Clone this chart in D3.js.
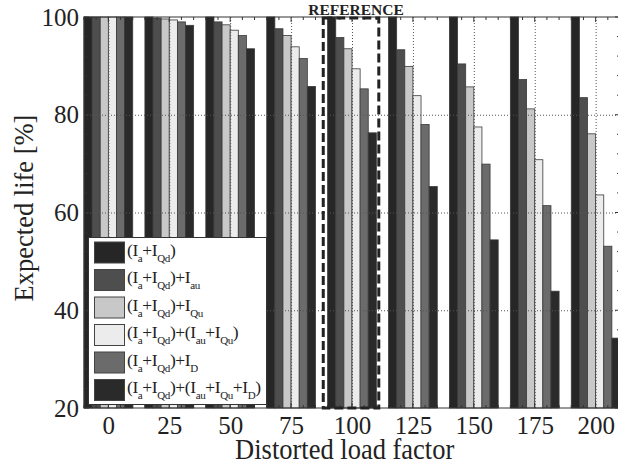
<!DOCTYPE html>
<html>
<head>
<meta charset="utf-8">
<script src="https://cdn.jsdelivr.net/npm/d3@7"></script>
<style>
  body { margin: 0; background: #fff; }
  svg { display: block; }
  text { font-family: "Liberation Serif", "DejaVu Serif", serif; fill: #222; }
</style>
</head>
<body>
<svg id="chart" width="618" height="465"></svg>
<script>
const loadFactors = [0, 25, 50, 75, 100, 125, 150, 175, 200]

const seriesNames = [
    "(I_{a}+I_{Qd})",
    "(I_{a}+I_{Qd})+I_{au}",
    "(I_{a}+I_{Qd})+I_{Qu}",
    "(I_{a}+I_{Qd})+(I_{au}+I_{Qu})",
    "(I_{a}+I_{Qd})+I_{D}",
    "(I_{a}+I_{Qd})+(I_{au}+I_{Qu}+I_{D})"
]

const seriesColors = ["#262626", "#4e4e4e", "#c8c8c8", "#ececec", "#6b6b6b", "#2a2a2a"]

// expected life [%], one array per series, ordered like loadFactors
const lifeIaQd     = [100, 100, 100, 100, 100, 100, 100, 100, 100]
const lifeIau      = [100, 99.8, 99.0, 97.6, 95.8, 93.3, 90.4, 87.2, 83.5]
const lifeIQu      = [100, 99.6, 98.4, 96.2, 93.5, 89.9, 85.7, 81.2, 76.1]
const lifeIauIQu   = [100, 99.4, 97.3, 93.9, 89.4, 83.9, 77.5, 70.8, 63.6]
const lifeID       = [100, 99.0, 96.2, 91.5, 85.3, 78.0, 69.9, 61.4, 53.1]
const lifeAll      = [100, 98.3, 93.5, 85.8, 76.3, 65.3, 54.4, 43.9, 34.3]

const seriesValues = [lifeIaQd, lifeIau, lifeIQu, lifeIauIQu, lifeID, lifeAll]

const yTicks = [20, 40, 60, 80, 100]
const referenceFactor = 100

const svg = d3.select("#chart")
const margin = { left: 84, top: 17, right: 620, bottom: 408 }

const x = d3.scaleLinear().domain([-10, 210]).range([margin.left, margin.right])
const y = d3.scaleLinear().domain([20, 100]).range([margin.bottom, margin.top])

const inner = d3.scaleBand().domain(d3.range(seriesNames.length)).paddingInner(0)

// bars
const groups = svg.append("g").selectAll("g")
    .data(loadFactors)
    .enter().append("g")

groups.selectAll("rect")
    .data((f, i) => seriesValues.map((vals, s) => ({ f: f, s: s, v: vals[i] })))
    .enter().append("rect")
    .attr("x", d => inner.range([x(d.f - 10), x(d.f + 10)])(d.s))
    .attr("width", d => inner.range([x(d.f - 10), x(d.f + 10)]).bandwidth())
    .attr("y", d => y(d.v))
    .attr("height", d => y(20) - y(d.v))
    .attr("fill", d => seriesColors[d.s])
    .attr("stroke", "#3a3a3a")
    .attr("stroke-width", 0.8)

// dotted grid (drawn over bars)
const grid = svg.append("g")
    .attr("stroke", "#555")
    .attr("stroke-width", 1)
    .attr("stroke-dasharray", "1,2")

grid.selectAll(".gx")
    .data(loadFactors)
    .enter().append("line")
    .attr("x1", d => x(d) + 0.5).attr("x2", d => x(d) + 0.5)
    .attr("y1", y(100)).attr("y2", y(20))

grid.selectAll(".gy")
    .data(yTicks.slice(1, -1))
    .enter().append("line")
    .attr("x1", x(-10)).attr("x2", x(210))
    .attr("y1", d => y(d) + 0.5).attr("y2", d => y(d) + 0.5)

// axes: ticks inside, box around
const xMinor = d3.range(-10, 211, 5)
const yMinor = d3.range(20, 101, 4)

const axisBottom = d3.axisBottom(x).tickValues(loadFactors).tickSize(0).tickPadding(8)
const gxAxis = svg.append("g").attr("transform", `translate(0,${margin.bottom})`).call(axisBottom)
gxAxis.select(".domain").remove()
gxAxis.selectAll("text").attr("font-size", 25).attr("font-family", "Liberation Serif").attr("fill", "#222")

const axisLeft = d3.axisLeft(y).tickValues(yTicks).tickSize(0).tickPadding(5)
const gyAxis = svg.append("g").attr("transform", `translate(${margin.left},0)`).call(axisLeft)
gyAxis.select(".domain").remove()
gyAxis.selectAll("text").attr("font-size", 25).attr("font-family", "Liberation Serif").attr("fill", "#222")

const ticks = svg.append("g").attr("stroke", "#333").attr("stroke-width", 1)
xMinor.forEach(v => {
    const len = loadFactors.includes(v) ? 5 : 3
    ticks.append("line").attr("x1", x(v)).attr("x2", x(v)).attr("y1", y(100)).attr("y2", y(100) + len)
    ticks.append("line").attr("x1", x(v)).attr("x2", x(v)).attr("y1", y(20)).attr("y2", y(20) - len)
})
yMinor.forEach(v => {
    const len = yTicks.includes(v) ? 5 : 3
    ticks.append("line").attr("x1", x(-10)).attr("x2", x(-10) + len).attr("y1", y(v)).attr("y2", y(v))
    ticks.append("line").attr("x1", x(210)).attr("x2", x(210) - len).attr("y1", y(v)).attr("y2", y(v))
})

svg.append("rect")
    .attr("x", x(-10)).attr("y", y(100))
    .attr("width", x(210) - x(-10)).attr("height", y(20) - y(100))
    .attr("fill", "none").attr("stroke", "#333").attr("stroke-width", 1)

// reference frame
svg.append("rect")
    .attr("x", x(referenceFactor - 11.8)).attr("y", y(100) + 1)
    .attr("width", x(referenceFactor + 11) - x(referenceFactor - 11.8))
    .attr("height", y(20) - y(100) - 1)
    .attr("fill", "none").attr("stroke", "#222").attr("stroke-width", 3)
    .attr("stroke-dasharray", "9,4")

svg.append("text")
    .attr("x", x(referenceFactor) + 4).attr("y", 15)
    .attr("text-anchor", "middle")
    .attr("font-size", 15.5).attr("font-weight", "bold")
    .text("REFERENCE")

// axis titles
svg.append("text")
    .attr("transform", `translate(${x(97)},459) scale(1,1.1)`)
    .attr("text-anchor", "middle")
    .attr("font-size", 26.5)
    .text("Distorted load factor")

svg.append("text")
    .attr("transform", "translate(33,208) rotate(-90)")
    .attr("text-anchor", "middle")
    .attr("font-size", 26.5)
    .text("Expected life [%]")

// legend
const legend = svg.append("g")
legend.append("rect")
    .attr("x", 88.5).attr("y", 237.5).attr("width", 178).attr("height", 167)
    .attr("fill", "#fff").attr("stroke", "#333").attr("stroke-width", 1)

function addRich(textSel, label) {
    const parts = label.split(/(_\{[^}]*\})/).filter(p => p.length)
    let sub = false
    parts.forEach(p => {
        if (p.startsWith("_{")) {
            textSel.append("tspan").attr("font-size", 11).attr("dy", sub ? 0 : 6).text(p.slice(2, -1))
            sub = true
        } else {
            textSel.append("tspan").attr("dy", sub ? -6 : 0).text(p)
            sub = false
        }
    })
}

seriesNames.forEach((name, i) => {
    const cy = 252.5 + i * 27.5
    legend.append("rect")
        .attr("x", 94.5).attr("y", cy - 10.5).attr("width", 30).attr("height", 21)
        .attr("fill", seriesColors[i]).attr("stroke", "#444").attr("stroke-width", 1)
    const t = legend.append("text")
        .attr("x", 127).attr("y", cy + 3)
        .attr("font-size", 17.5)
        .attr("letter-spacing", -0.4)
    addRich(t, name)
})
</script>
</body>
</html>
